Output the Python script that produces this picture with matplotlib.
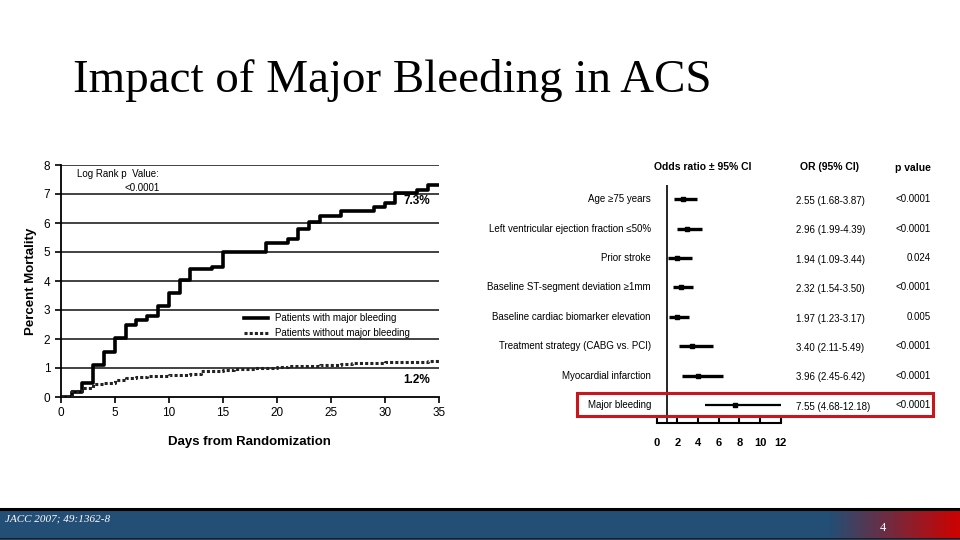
import numpy as np
import matplotlib
matplotlib.use("Agg")
import matplotlib.pyplot as plt
from matplotlib.patches import Rectangle
from matplotlib.transforms import blended_transform_factory

# Kaplan-Meier style curves
days_bleed = [0, 1, 2, 3, 4, 5, 6, 7, 8, 9, 10, 11, 12, 14, 15, 19, 21, 22, 23, 24, 26, 29, 30, 31, 33, 34, 35]
mort_bleed = [0, 0.17, 0.5, 1.1, 1.55, 2.05, 2.5, 2.65, 2.8, 3.15, 3.6, 4.05, 4.4, 4.5, 5.0, 5.3, 5.45, 5.8, 6.05, 6.25, 6.4, 6.55, 6.7, 7.05, 7.15, 7.3, 7.3]

days_nobleed = list(range(0, 36))
mort_nobleed = [0, 0.2, 0.3, 0.45, 0.5, 0.57, 0.65, 0.68, 0.72, 0.73, 0.75, 0.77, 0.8, 0.88,
                0.9, 0.93, 0.95, 0.97, 0.99, 1.01, 1.02, 1.06, 1.07, 1.08, 1.1, 1.12, 1.14,
                1.17, 1.17, 1.18, 1.19, 1.2, 1.21, 1.22, 1.24, 1.25]

# forest plot
factors = ["Age \u226575 years", "Left ventricular ejection fraction \u226450%", "Prior stroke",
           "Baseline ST-segment deviation \u22651mm", "Baseline cardiac biomarker elevation",
           "Treatment strategy (CABG vs. PCI)", "Myocardial infarction", "Major bleeding"]
odds = [2.55, 2.96, 1.94, 2.32, 1.97, 3.40, 3.96, 7.55]
ci_lo = [1.68, 1.99, 1.09, 1.54, 1.23, 2.11, 2.45, 4.68]
ci_hi = [3.87, 4.39, 3.44, 3.50, 3.17, 5.49, 6.42, 12.18]
pvals = ["<0.0001", "<0.0001", "0.024", "<0.0001", "0.005", "<0.0001", "<0.0001", "<0.0001"]

W, H = 960, 540
fig = plt.figure(figsize=(9.6, 5.4), dpi=100)
plt.rcParams['font.family'] = ['Liberation Sans', 'DejaVu Sans']

def fx(px):
    return px / W

def fy(py):
    return 1 - py / H

fig.text(fx(73), fy(81), "Impact of Major Bleeding in ACS", family="Liberation Serif",
         fontsize=33.8, va="center", ha="left")

# ---- left chart
ax = fig.add_axes([fx(60.7), fy(397), fx(438.7) - fx(60.7), fy(165) - fy(397)])
ax.set_xlim(0, 35)
ax.set_ylim(0, 8)
for v in range(1, 9):
    ax.axhline(v, color="#333333", lw=1.3, zorder=1)
ax.plot(days_bleed, mort_bleed, drawstyle="steps-post", color="black", lw=2.6, zorder=3)
ax.plot(days_nobleed, mort_nobleed, drawstyle="steps-post", color="#222222", lw=2.2,
        ls=(0, (1, 0.7)), zorder=3)
ax.spines["top"].set_visible(False)
ax.spines["right"].set_visible(False)
ax.spines["left"].set_linewidth(1.3)
ax.spines["bottom"].set_linewidth(1.3)
ax.set_xticks(range(0, 36, 5))
ax.set_yticks(range(0, 9))
ax.tick_params(labelsize=8.5, length=4, width=1.2, direction="out")
ax.set_xlabel("Days from Randomization", fontsize=9.5, fontweight="bold", labelpad=12)
ax.set_ylabel("Percent Mortality", fontsize=9.5, fontweight="bold", labelpad=5)
ax.text(1.5, 7.7, "Log Rank p  Value:", fontsize=7, va="center")
ax.text(5.9, 7.2, "<0.0001", fontsize=7, va="center")
ax.text(34.2, 6.75, "7.3%", fontsize=8.5, fontweight="bold", ha="right", va="center")
ax.text(34.2, 0.6, "1.2%", fontsize=8.5, fontweight="bold", ha="right", va="center")
ax.plot([17.0, 19.2], [2.74, 2.74], color="black", lw=2.6)
ax.plot([17.0, 19.2], [2.22, 2.22], color="#222222", lw=2.2, ls=(0, (1, 0.7)))
ax.text(19.8, 2.74, "Patients with major bleeding", fontsize=7, va="center")
ax.text(19.8, 2.22, "Patients without major bleeding", fontsize=7, va="center")

# ---- forest plot
fa = fig.add_axes([fx(656.7), fy(423), fx(780.7) - fx(656.7), fy(185) - fy(423)])
n = len(factors)
fa.set_xlim(0, 12)
fa.set_ylim(7.61, -0.48)
rows = np.arange(n)
for i in rows:
    lw = 1.6 if i == n - 1 else 2.4
    fa.plot([ci_lo[i], ci_hi[i]], [i, i], color="black", lw=lw, solid_capstyle="butt")
fa.scatter(odds, rows, marker="s", s=12, color="black", zorder=3)
fa.axvline(1, color="black", lw=1.2)
for s in ["top", "right", "left"]:
    fa.spines[s].set_visible(False)
fa.spines["bottom"].set_linewidth(1.5)
fa.set_yticks([])
fa.set_xticks(range(0, 13, 2))
fa.tick_params(axis="x", direction="in", length=5, width=1.5, pad=11, labelsize=8)
for lab in fa.get_xticklabels():
    lab.set_fontweight("bold")

tr = blended_transform_factory(fig.transFigure, fa.transData)
for i in rows:
    fig.text(fx(651), i, factors[i], transform=tr, ha="right", va="center", fontsize=7)
    fig.text(fx(796), i + 0.06, "%.2f (%.2f-%.2f)" % (odds[i], ci_lo[i], ci_hi[i]),
             transform=tr, ha="left", va="center", fontsize=7)
    fig.text(fx(931), i, pvals[i], transform=tr, ha="right", va="center", fontsize=7)

fig.text(fx(703), fy(167), "Odds ratio \u00b1 95% CI", ha="center", va="center",
         fontsize=7.5, fontweight="bold")
fig.text(fx(830), fy(167), "OR (95% CI)", ha="center", va="center", fontsize=7.5, fontweight="bold")
fig.text(fx(913), fy(168), "p value", ha="center", va="center", fontsize=7.5, fontweight="bold")

fig.patches.append(Rectangle((fx(577), fy(416)), fx(933) - fx(577), fy(393) - fy(416),
                             transform=fig.transFigure, fill=False, ec="#c8161d", lw=2.2))

# ---- footer bar
bar = fig.add_axes([0, fy(539), 1, fy(509) - fy(539)])
blue = np.array([35, 78, 118]) / 255
red = np.array([200, 4, 4]) / 255
xs = np.linspace(0, W, 960)
t = np.clip((xs - 830) / 125, 0, 1)[:, None]
grad = (blue * (1 - t) + red * t)[None, :, :]
bar.imshow(grad, aspect="auto", extent=[0, 1, 0, 1])
bar.set_axis_off()
fig.add_artist(plt.Line2D([0, 1], [fy(509), fy(509)], transform=fig.transFigure, color="black", lw=2.2))
fig.add_artist(plt.Line2D([0, 1], [fy(539), fy(539)], transform=fig.transFigure, color="#0a1a2a", lw=1.2))
fig.text(fx(5), fy(519), "JACC 2007; 49:1362-8", family="Liberation Serif", style="italic",
         fontsize=8, color="white", va="center")
fig.text(fx(883), fy(528), "4", family="Liberation Serif", fontsize=9, color="white",
         ha="center", va="center")

fig.savefig("out.png", dpi=100)
